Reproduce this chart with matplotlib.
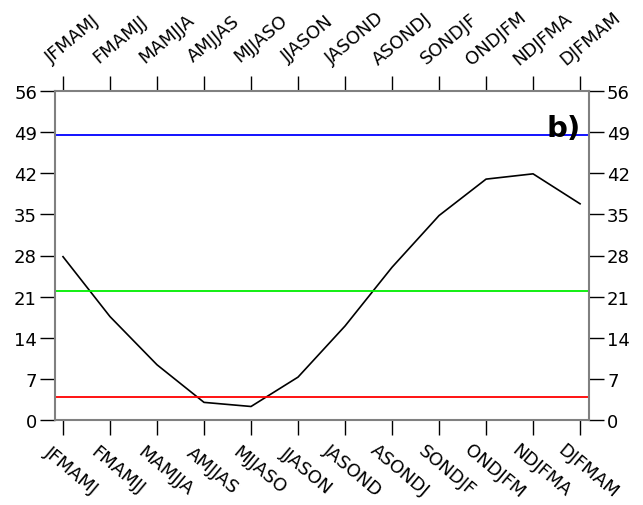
import matplotlib
matplotlib.use("Agg")
import matplotlib.pyplot as plt
from matplotlib.transforms import offset_copy
import numpy as np

seasons = ["JFMAMJ", "FMAMJJ", "MAMJJA", "AMJJAS", "MJJASO", "JJASON",
           "JASOND", "ASONDJ", "SONDJF", "ONDJFM", "NDJFMA", "DJFMAM"]
values = [27.8, 17.6, 9.4, 3.0, 2.3, 7.3, 16.0, 26.0, 34.8, 41.0, 41.9, 36.8]
blue_level = 48.5
green_level = 22.0
red_level = 3.9
yticks = [0, 7, 14, 21, 28, 35, 42, 49, 56]

plt.rcParams['font.family'] = ['DejaVu Sans']
fig = plt.figure(figsize=(6.43, 5.06), dpi=100)
ax = fig.add_axes([55/643, 1-421/506, (589-55)/643, (421-92)/506])

x = np.arange(len(seasons))
ax.plot(x, values, color="black", lw=1.2)
ax.axhline(blue_level, color="blue", lw=1.3)
ax.axhline(green_level, color="#00ee00", lw=1.3)
ax.axhline(red_level, color="red", lw=1.3)

ax.set_xlim(-0.17, 11.19)
ax.set_ylim(0, 56)
ax.set_yticks(yticks)
ax.set_xticks(x)
ax.tick_params(axis="both", direction="out", length=11, width=1, colors="black",
               labelsize=13, top=True, right=True)
ax.tick_params(axis="x", labelbottom=False, labeltop=False)
ax.tick_params(axis="y", left=True, right=True, labelleft=True, labelright=True)
ax.tick_params(axis="y", which="major", pad=2)
for t in ax.yaxis.get_major_ticks():
    t.tick2line.set_markersize(11)
ax.yaxis.set_tick_params(which="major", pad=2)
for lab in ax.yaxis.get_ticklabels(which="major"):
    pass

# tick labels drawn as text, positioned by tick (data x) and axes edge
trans = ax.get_xaxis_transform()
bot_tr = offset_copy(trans, fig=fig, x=8, y=-50, units="dots")
top_tr = offset_copy(trans, fig=fig, x=10, y=53, units="dots")
for xi, s in zip(x, seasons):
    ax.text(xi, 0, s, transform=bot_tr, rotation=-40, rotation_mode="anchor",
            ha="center", va="center", fontsize=13, clip_on=False)
    ax.text(xi, 1, s, transform=top_tr, rotation=40, rotation_mode="anchor",
            ha="center", va="center", fontsize=13, clip_on=False)

for s in ax.spines.values():
    s.set_color("#808080")
    s.set_linewidth(1.5)
ax.text(0.985, 0.864, "b)", transform=ax.transAxes, ha="right", va="baseline",
        fontsize=21, fontweight="bold")
fig.savefig("out.png", dpi=100)
